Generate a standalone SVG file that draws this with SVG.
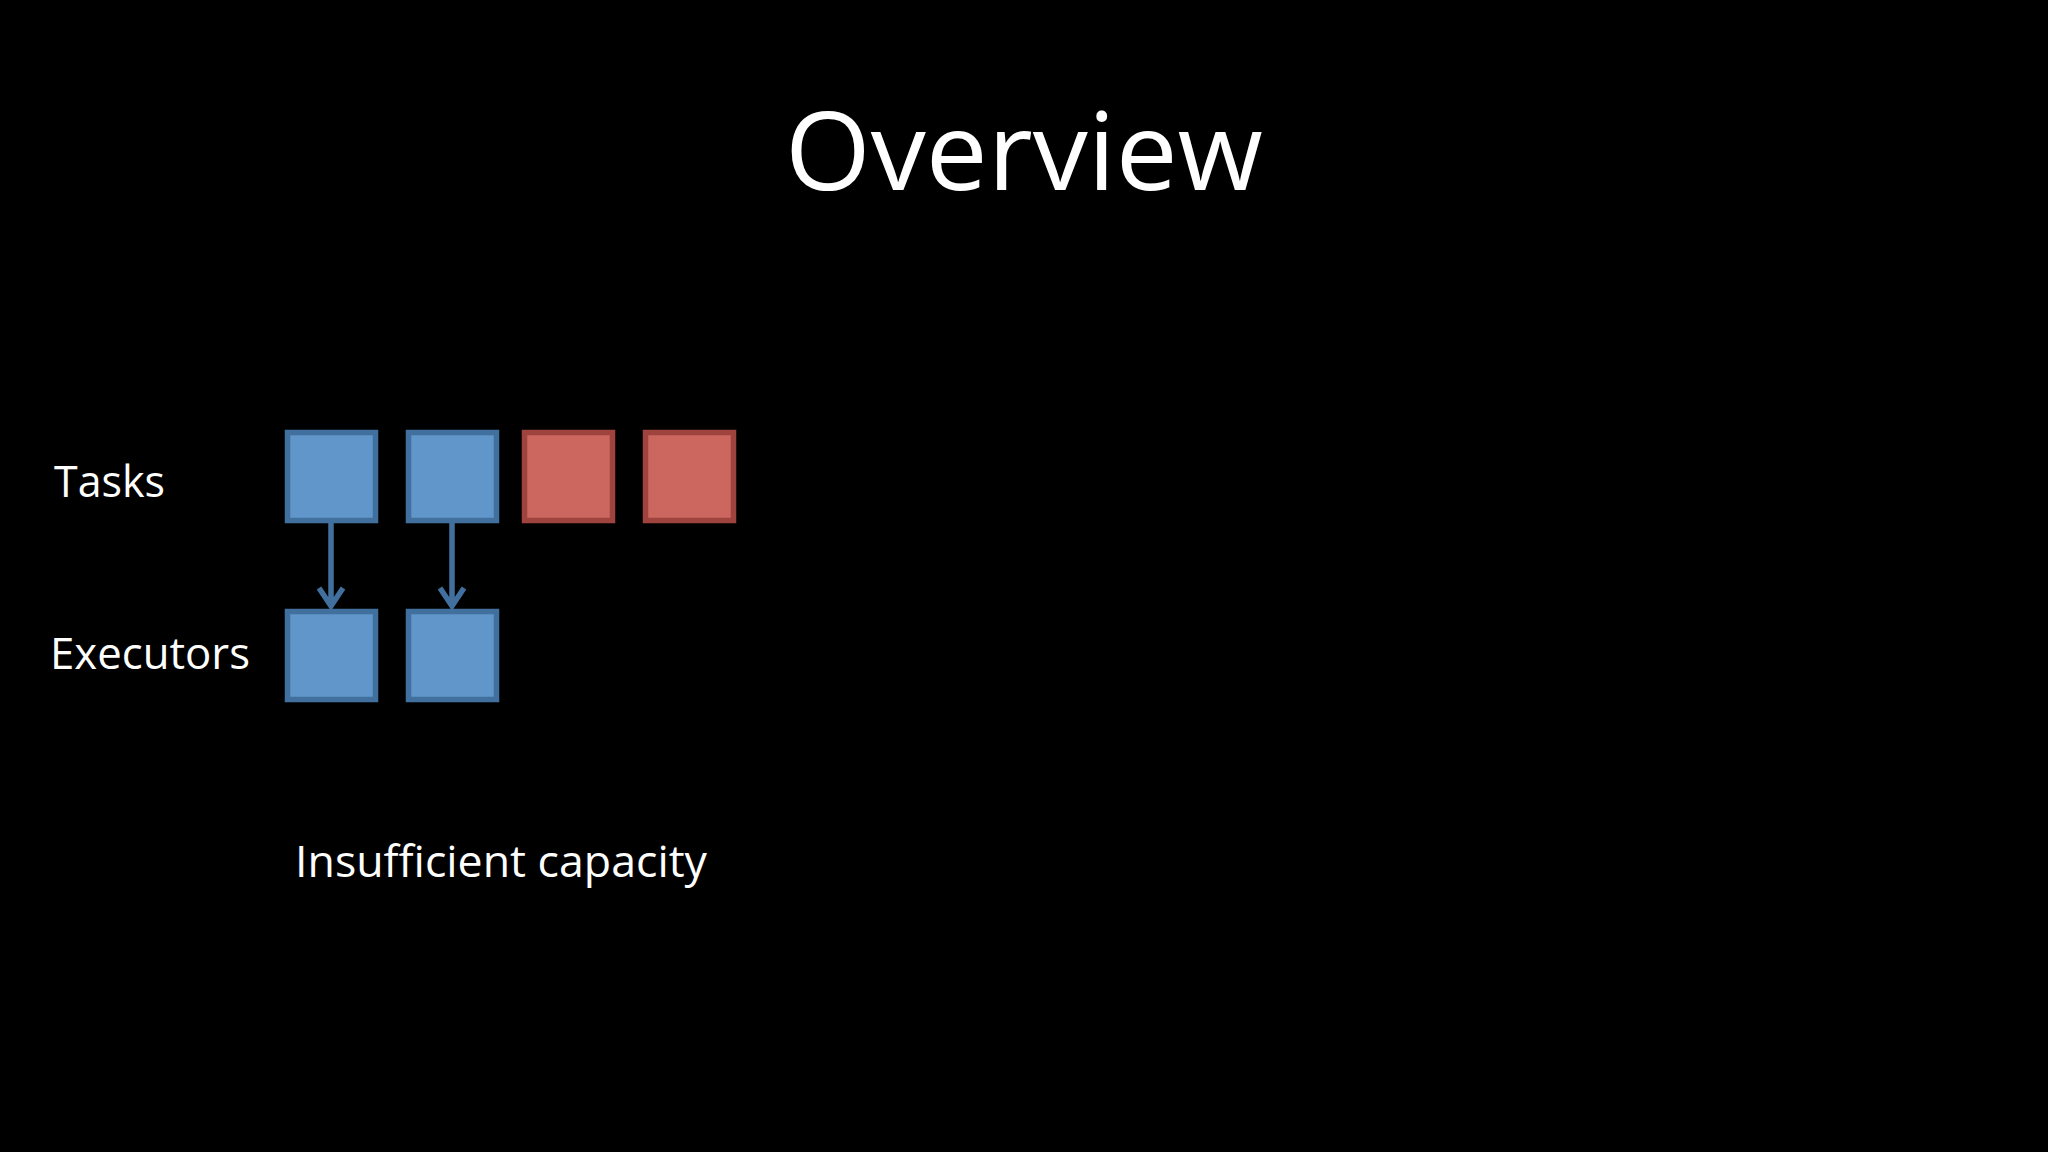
<svg xmlns="http://www.w3.org/2000/svg" width="2048" height="1152" viewBox="0 0 2048 1152">
<style>
text{font-family:"Open Sans","Liberation Sans",sans-serif;fill:#fff}
.blue{fill:#6096CA;stroke:#41709E;stroke-width:5.5}
.red{fill:#CB675F;stroke:#9E433D;stroke-width:5.5}
.conn{stroke:#41709E;stroke-width:5.5;fill:none}
</style>
<rect width="2048" height="1152" fill="#000"/>
<text x="1024" y="190" font-size="108" text-anchor="middle" textLength="478" lengthAdjust="spacingAndGlyphs">Overview</text>
<text x="54" y="497" font-size="44" textLength="111" lengthAdjust="spacingAndGlyphs">Tasks</text>
<text x="50" y="669" font-size="44" textLength="200" lengthAdjust="spacingAndGlyphs">Executors</text>
<text x="295" y="877" font-size="44" textLength="412" lengthAdjust="spacingAndGlyphs">Insufficient capacity</text>
<g id="task1"><rect class="blue" x="287.5" y="432.5" width="88" height="88"/></g>
<g id="task2"><rect class="blue" x="408.5" y="432.5" width="88" height="88"/></g>
<g id="task3"><rect class="red" x="524.5" y="432.5" width="88" height="88"/></g>
<g id="task4"><rect class="red" x="645.5" y="432.5" width="88" height="88"/></g>
<g id="exec1"><rect class="blue" x="287.5" y="611.5" width="88" height="88"/></g>
<g id="exec2"><rect class="blue" x="408.5" y="611.5" width="88" height="88"/></g>
<g id="connectors">
<path class="conn" d="M331 523V606M319 588L331 606L343 588"/>
<path class="conn" d="M452 523V606M440 588L452 606L464 588"/>
</g>
</svg>
